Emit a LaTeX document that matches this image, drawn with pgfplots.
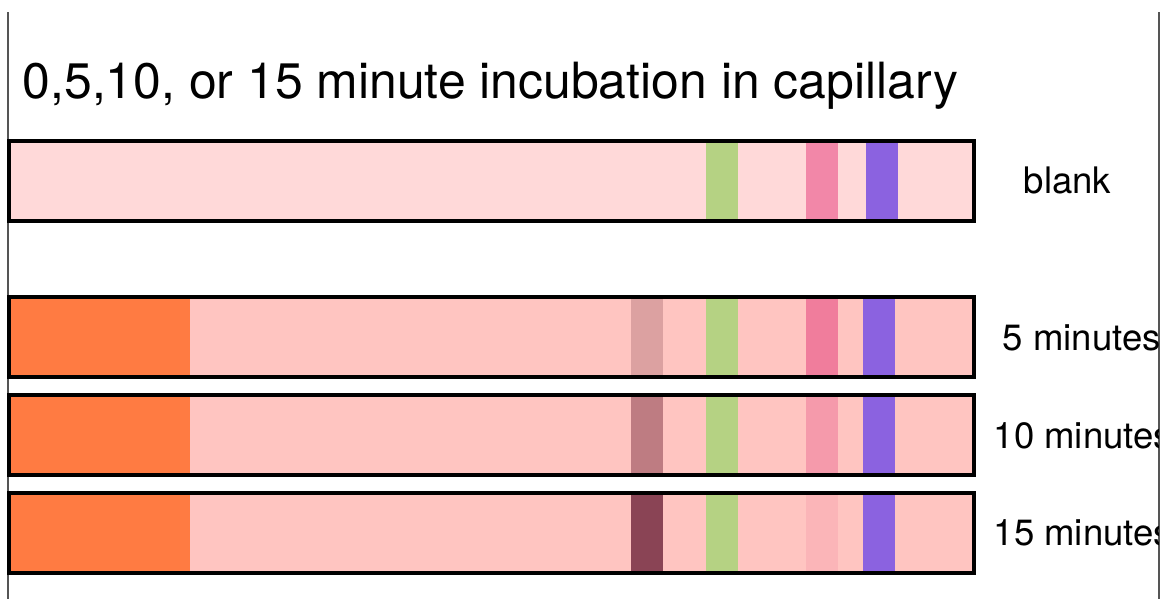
\documentclass[border=0pt]{standalone}
\usepackage{pgfplots}
\pgfplotsset{compat=1.18}
\usepackage{fontspec}
\setmainfont{TeX Gyre Heros}
\definecolor{blankbg}{RGB}{255,217,217}
\definecolor{rowbg}{RGB}{255,197,193}
\definecolor{orangeb}{RGB}{255,123,66}
\definecolor{greenb}{RGB}{181,210,131}
\definecolor{purpleb}{RGB}{139,98,224}
\definecolor{pink0}{RGB}{242,135,168}
\definecolor{pink5}{RGB}{240,125,156}
\definecolor{pink10}{RGB}{245,154,171}
\definecolor{pink15}{RGB}{251,181,184}
\definecolor{dark5}{RGB}{220,161,161}
\definecolor{dark10}{RGB}{190,124,130}
\definecolor{dark15}{RGB}{138,68,85}
\definecolor{sideline}{RGB}{85,85,85}
\begin{document}
\begin{tikzpicture}
\begin{axis}[
  width=11.63cm, height=5.99cm, scale only axis,
  xmin=0, xmax=1163, ymin=0, ymax=599, y dir=reverse,
  hide axis, clip=false,
]
% side lines
\addplot[draw=sideline, line width=0.2mm] coordinates {(8,12) (8,599)};
\addplot[draw=sideline, line width=0.2mm] coordinates {(1159,12) (1159,599)};
% ---- blank row (y 141-221)
\addplot[fill=blankbg, draw=none] coordinates {(9,141) (974,141) (974,221) (9,221)} -- cycle;
\addplot[fill=greenb, draw=none] coordinates {(706,141) (738,141) (738,221) (706,221)} -- cycle;
\addplot[fill=pink0, draw=none] coordinates {(806,141) (838,141) (838,221) (806,221)} -- cycle;
\addplot[fill=purpleb, draw=none] coordinates {(866,141) (898,141) (898,221) (866,221)} -- cycle;
\addplot[draw=black, line width=0.4mm, line join=miter] coordinates {(9,141) (974,141) (974,221) (9,221)} -- cycle;
% ---- 5 minutes row (y 297-377)
\addplot[fill=rowbg, draw=none] coordinates {(9,297) (974,297) (974,377) (9,377)} -- cycle;
\addplot[fill=orangeb, draw=none] coordinates {(9,297) (190,297) (190,377) (9,377)} -- cycle;
\addplot[fill=dark5, draw=none] coordinates {(631,297) (663,297) (663,377) (631,377)} -- cycle;
\addplot[fill=greenb, draw=none] coordinates {(706,297) (738,297) (738,377) (706,377)} -- cycle;
\addplot[fill=pink5, draw=none] coordinates {(806,297) (838,297) (838,377) (806,377)} -- cycle;
\addplot[fill=purpleb, draw=none] coordinates {(863,297) (895,297) (895,377) (863,377)} -- cycle;
\addplot[draw=black, line width=0.4mm, line join=miter] coordinates {(9,297) (974,297) (974,377) (9,377)} -- cycle;
% ---- 10 minutes row (y 395-475)
\addplot[fill=rowbg, draw=none] coordinates {(9,395) (974,395) (974,475) (9,475)} -- cycle;
\addplot[fill=orangeb, draw=none] coordinates {(9,395) (190,395) (190,475) (9,475)} -- cycle;
\addplot[fill=dark10, draw=none] coordinates {(631,395) (663,395) (663,475) (631,475)} -- cycle;
\addplot[fill=greenb, draw=none] coordinates {(706,395) (738,395) (738,475) (706,475)} -- cycle;
\addplot[fill=pink10, draw=none] coordinates {(806,395) (838,395) (838,475) (806,475)} -- cycle;
\addplot[fill=purpleb, draw=none] coordinates {(863,395) (895,395) (895,475) (863,475)} -- cycle;
\addplot[draw=black, line width=0.4mm, line join=miter] coordinates {(9,395) (974,395) (974,475) (9,475)} -- cycle;
% ---- 15 minutes row (y 493-573)
\addplot[fill=rowbg, draw=none] coordinates {(9,493) (974,493) (974,573) (9,573)} -- cycle;
\addplot[fill=orangeb, draw=none] coordinates {(9,493) (190,493) (190,573) (9,573)} -- cycle;
\addplot[fill=dark15, draw=none] coordinates {(631,493) (663,493) (663,573) (631,573)} -- cycle;
\addplot[fill=greenb, draw=none] coordinates {(706,493) (738,493) (738,573) (706,573)} -- cycle;
\addplot[fill=pink15, draw=none] coordinates {(806,493) (838,493) (838,573) (806,573)} -- cycle;
\addplot[fill=purpleb, draw=none] coordinates {(863,493) (895,493) (895,573) (863,573)} -- cycle;
\addplot[draw=black, line width=0.4mm, line join=miter] coordinates {(9,493) (974,493) (974,573) (9,573)} -- cycle;
% title
\node[anchor=base west, inner sep=0pt, font=\fontsize{14.2}{17}\selectfont] at (axis cs:22,98) {0,5,10, or 15 minute incubation in capillary};
% labels
\begin{scope}
\clip (axis cs:0,0) rectangle (axis cs:1158,599);
\node[anchor=base west, inner sep=0pt, font=\fontsize{10.4}{12}\selectfont] at (axis cs:1023,193) {blank};
\node[anchor=base west, inner sep=0pt, font=\fontsize{10.4}{12}\selectfont] at (axis cs:1002,350) {5 minutes};
\node[anchor=base west, inner sep=0pt, font=\fontsize{10.4}{12}\selectfont] at (axis cs:993,448) {10 minutes};
\node[anchor=base west, inner sep=0pt, font=\fontsize{10.4}{12}\selectfont] at (axis cs:993,545) {15 minutes};
\end{scope}
\end{axis}
\pgfresetboundingbox
\path[use as bounding box] (current axis.south west) rectangle (current axis.north east);
\end{tikzpicture}
\end{document}
